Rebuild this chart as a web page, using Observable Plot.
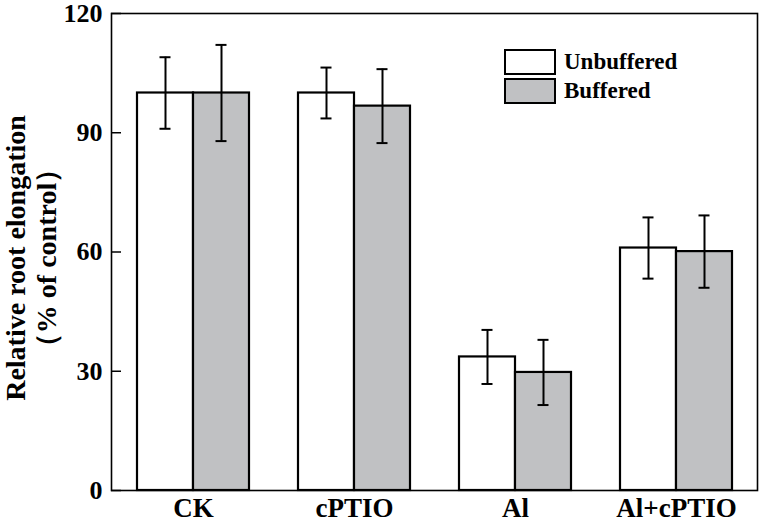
<!DOCTYPE html>
<html>
<head>
<meta charset="utf-8">
<script src="https://cdn.jsdelivr.net/npm/d3@7"></script>
<script src="https://cdn.jsdelivr.net/npm/@observablehq/plot@0.6"></script>
<style>
  body { margin: 0; background: #fff; }
  #wrap { position: relative; width: 760px; height: 522px; }
  .legend { position: absolute; left: 504px; top: 48px; font-family: "Liberation Serif", serif; font-weight: bold; font-size: 23px; }
  .legend .row { display: flex; align-items: center; height: 28.5px; }
  .legend .sw { width: 48px; height: 22px; border: 2px solid #000; margin-right: 8px; box-sizing: content-box; }
</style>
</head>
<body>
<div id="wrap"></div>
<script>
const categories = ["CK", "cPTIO", "Al", "Al+cPTIO"];
const seriesNames = ["Unbuffered", "Buffered"];
const unbuffered = [100, 100, 33.6, 61.0];
const unbufferedErr = [9.0, 6.4, 6.8, 7.7];
const buffered = [100, 96.7, 29.7, 60.1];
const bufferedErr = [12.1, 9.3, 8.2, 9.1];
const yTicks = [0, 30, 60, 90, 120];
const yTitle = "Relative root elongation\n（% of control）";

const colors = {Unbuffered: "#ffffff", Buffered: "#c0c1c3"};

const W = 760, H = 522, ML = 111, MR = 3, MT = 13, MB = 32;
const padInner = 0.3065;
const step = (W - ML - MR) / categories.length;
const bw = step * (1 - padInner);
const capW = 11;

const table = categories.map((c, i) => ({
  cat: c, u: unbuffered[i], ue: unbufferedErr[i], b: buffered[i], be: bufferedErr[i]
}));

const chart = Plot.plot({
  width: W, height: H,
  marginLeft: ML, marginRight: MR, marginTop: MT, marginBottom: MB,
  style: {fontFamily: "Liberation Serif, serif", fontWeight: "bold", background: "#fff", color: "#000"},
  x: {domain: categories, paddingInner: padInner, paddingOuter: padInner / 2, label: null},
  y: {domain: [0, 120], label: null},
  marks: [
    Plot.barY(table, {x: "cat", y: "u", fill: colors.Unbuffered, stroke: "#000", strokeWidth: 2.2, insetRight: bw / 2}),
    Plot.barY(table, {x: "cat", y: "b", fill: colors.Buffered, stroke: "#000", strokeWidth: 2.2, insetLeft: bw / 2}),
    Plot.ruleX(table, {x: "cat", y1: d => d.u - d.ue, y2: d => d.u + d.ue, dx: -bw / 4, stroke: "#000", strokeWidth: 2}),
    Plot.ruleX(table, {x: "cat", y1: d => d.b - d.be, y2: d => d.b + d.be, dx: bw / 4, stroke: "#000", strokeWidth: 2}),
    Plot.tickY(table, {x: "cat", y: d => d.u + d.ue, insetLeft: bw / 4 - capW / 2, insetRight: 3 * bw / 4 - capW / 2, stroke: "#000", strokeWidth: 2}),
    Plot.tickY(table, {x: "cat", y: d => d.u - d.ue, insetLeft: bw / 4 - capW / 2, insetRight: 3 * bw / 4 - capW / 2, stroke: "#000", strokeWidth: 2}),
    Plot.tickY(table, {x: "cat", y: d => d.b + d.be, insetLeft: 3 * bw / 4 - capW / 2, insetRight: bw / 4 - capW / 2, stroke: "#000", strokeWidth: 2}),
    Plot.tickY(table, {x: "cat", y: d => d.b - d.be, insetLeft: 3 * bw / 4 - capW / 2, insetRight: bw / 4 - capW / 2, stroke: "#000", strokeWidth: 2}),
    Plot.axisY({ticks: yTicks, tickSize: -10, tickPadding: 19, fontSize: 26, fontWeight: "bold", strokeWidth: 1.5, label: null}),
    Plot.axisX({tickSize: 0, tickPadding: 7, fontSize: 27, fontWeight: "bold", label: null}),
    Plot.frame({stroke: "#000", strokeWidth: 1.6}),
    Plot.text([yTitle], {frameAnchor: "left", textAnchor: "middle", rotate: -90, dx: -81, dy: 6, fontSize: 28, fontWeight: "bold", lineHeight: 1.1, fill: "#000"})
  ]
});

const wrap = document.getElementById("wrap");
wrap.appendChild(chart);

const legend = document.createElement("div");
legend.className = "legend";
for (const s of seriesNames) {
  const row = document.createElement("div");
  row.className = "row";
  const sw = document.createElement("div");
  sw.className = "sw";
  sw.style.background = colors[s];
  const t = document.createElement("span");
  t.textContent = s;
  row.appendChild(sw);
  row.appendChild(t);
  legend.appendChild(row);
}
wrap.appendChild(legend);
</script>
</body>
</html>
